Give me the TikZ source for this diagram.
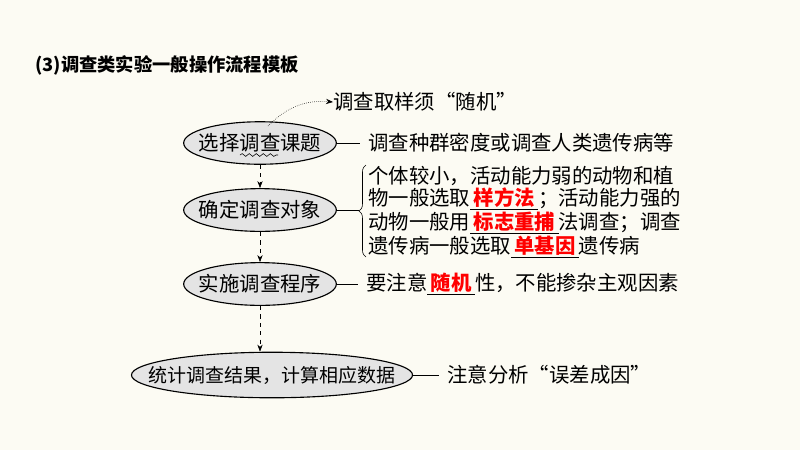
\documentclass[tikz,border=0pt]{standalone}
\usepackage{fontspec}
\newfontfamily\cjk{Noto Sans CJK SC}
\usetikzlibrary{positioning,decorations.pathreplacing,decorations.pathmorphing,arrows.meta,shapes.geometric}
\definecolor{paper}{HTML}{FCFBF3}
\definecolor{stepgray}{HTML}{E4E4E4}
\newcommand{\fillin}[1]{\underline{\,\textcolor{red}{\bfseries #1}\,}}
\setlength{\unitlength}{0.025cm}
\tikzset{stepbox/.style = {shape=ellipse,draw,thick,fill=stepgray,inner xsep=-0.18cm,inner ysep=4pt}}
\tikzset{note/.style = {anchor=west,inner sep=0pt}}
\tikzset{flow/.style = {-{Stealth[length=5pt]},dashed}}

\begin{document}
\begin{tikzpicture}[x=0.025cm,y=-0.025cm,font=\cjk\fontsize{14.5pt}{17pt}\selectfont]
          \fill[paper] (0,0) rectangle (800,450);
          \useasboundingbox (0,0) rectangle (800,450);
          \node[note,font=\cjk\bfseries\fontsize{13pt}{15pt}\selectfont] (title) at (35,65) {(3)调查类实验一般操作流程模板};

          \node[stepbox] (S1) at (260,143) {选择调查课题};
          \node[stepbox] (S2) at (260,210) {确定调查对象};
          \node[stepbox] (S3) at (260,284) {实施调查程序};
          \node[stepbox,inner xsep=-0.6cm,inner ysep=5pt,font=\cjk\fontsize{13.5pt}{16pt}\selectfont] (S4) at (272,375) {统计调查结果，计算相应数据};

          \draw[flow] (S1) -- (S2);
          \draw[flow] (S2) -- (S3);
          \draw[flow] (S3.south) -- (S3.south |- S4.north);

          % wavy mark and remark
          \draw[decorate,decoration={snake,amplitude=1pt,segment length=5pt}] (240,155) -- (278,155);
          \node[note] (hint) at (333,102) {调查取样须“随机”};
          \draw[-{Stealth[length=5pt]},densely dotted] (268,126) to[bend left=25] (hint.west);

          % explanations
          \node[note] (T1) at (368,143) {调查种群密度或调查人类遗传病等};
          \draw (S1.east) -- ([xshift=-6pt]T1.west);
          \node[note] (T2a) at (368,176) {个体较小，活动能力弱的动物和植};
          \node[note] (T2b) at (368,199) {物一般选取\fillin{样方法}；活动能力强的};
          \node[note] (T2c) at (368,223) {动物一般用\fillin{标志重捕}法调查；调查};
          \node[note] (T2d) at (368,247) {遗传病一般选取\fillin{单基因}遗传病};
          \draw[decorate,decoration={brace,amplitude=5pt}] (366,257) -- (366,165);
          \draw (S2.east) -- (359,210);
          \node[note] (T3) at (366,284) {要注意\fillin{随机}性，不能掺杂主观因素};
          \draw (S3.east) -- ([xshift=-6pt]T3.west);
          \node[note] (T4) at (447,375) {注意分析“误差成因”};
          \draw (S4.east) -- ([xshift=-6pt]T4.west);
        \end{tikzpicture}
\end{document}
